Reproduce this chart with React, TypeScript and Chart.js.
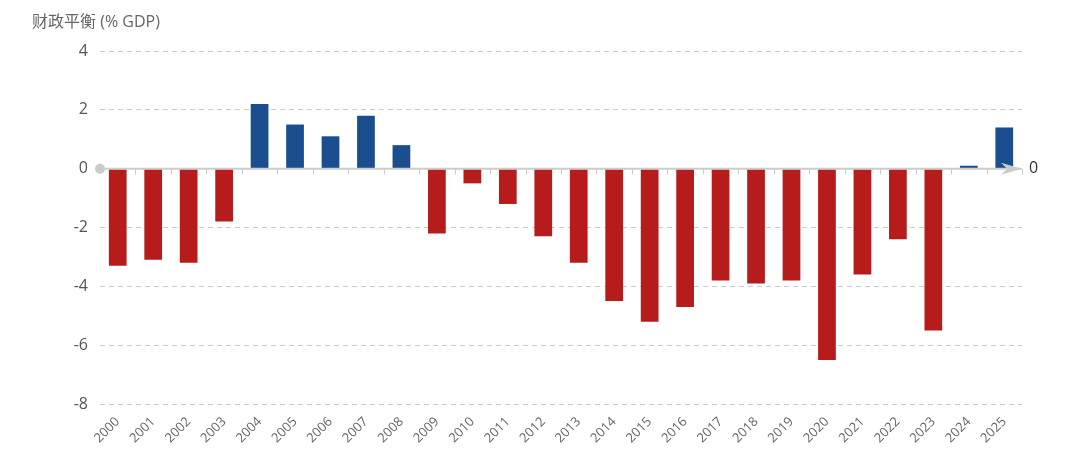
import React, { useEffect, useRef } from "react";
import { Chart, registerables } from "chart.js";

Chart.register(...registerables);

const years = [
  "2000", "2001", "2002", "2003", "2004", "2005", "2006", "2007", "2008",
  "2009", "2010", "2011", "2012", "2013", "2014", "2015", "2016", "2017",
  "2018", "2019", "2020", "2021", "2022", "2023", "2024", "2025",
];
const balance = [
  -3.3, -3.1, -3.2, -1.8, 2.2, 1.5, 1.1, 1.8, 0.8, -2.2, -0.5, -1.2, -2.3,
  -3.2, -4.5, -5.2, -4.7, -3.8, -3.9, -3.8, -6.5, -3.6, -2.4, -5.5, 0.1, 1.4,
];
const yMin = -8;
const yMax = 4;
const yStep = 2;
const title = "财政平衡 (% GDP)";
const zeroLabel = "0";

const RED = "#b71c1c";
const BLUE = "#1a4e8f";
const GRID = "#cccccc";
const FONT = "'Open Sans', 'Noto Sans CJK SC', sans-serif";

// zero axis: circle at start, arrow at end, ticks between categories, title
const zeroAxis = {
  id: "zeroAxis",
  afterDatasetsDraw(chart: any) {
    const { ctx, chartArea, scales } = chart;
    const x = scales.x;
    const y0 = scales.y.getPixelForValue(0);
    const band = x.getPixelForValue(1) - x.getPixelForValue(0);
    ctx.save();
    ctx.strokeStyle = GRID;
    ctx.lineWidth = 2;
    ctx.beginPath();
    ctx.moveTo(chartArea.left, y0);
    ctx.lineTo(chartArea.right, y0);
    ctx.stroke();

    ctx.lineWidth = 1;
    for (let i = 1; i <= years.length; i++) {
      const px = Math.round(x.getPixelForValue(i - 1) + band / 2) + 0.5;
      ctx.beginPath();
      ctx.moveTo(px, y0);
      ctx.lineTo(px, y0 + 6);
      ctx.stroke();
    }

    ctx.fillStyle = GRID;
    ctx.beginPath();
    ctx.arc(chartArea.left, y0, 5, 0, Math.PI * 2);
    ctx.fill();

    const tip = chartArea.right;
    ctx.beginPath();
    ctx.moveTo(tip, y0);
    ctx.lineTo(tip - 21, y0 + 6);
    ctx.lineTo(tip - 15, y0);
    ctx.lineTo(tip - 21, y0 - 6);
    ctx.closePath();
    ctx.fill();

    ctx.fillStyle = "#333";
    ctx.font = `16px ${FONT}`;
    ctx.textAlign = "left";
    ctx.textBaseline = "middle";
    ctx.fillText(zeroLabel, tip + 7, y0);

    ctx.fillStyle = "#666";
    ctx.font = `16px ${FONT}`;
    ctx.fillText(title, 32, 22);
    ctx.restore();
  },
};

const App: React.FC = () => {
  const chartRef = useRef<HTMLCanvasElement | null>(null);

  useEffect(() => {
    document.body.style.margin = "0";
    if (!chartRef.current) return;
    const chart = new Chart(chartRef.current, {
      type: "bar",
      data: {
        labels: years,
        datasets: [
          {
            data: balance,
            backgroundColor: balance.map((v) => (v >= 0 ? BLUE : RED)),
            barPercentage: 0.5,
            categoryPercentage: 1,
          },
        ],
      },
      options: {
        animation: false,
        responsive: true,
        maintainAspectRatio: false,
        layout: { padding: { top: 51, right: 58, left: 0, bottom: 0 } },
        plugins: {
          legend: { display: false },
          tooltip: { enabled: false },
        },
        scales: {
          x: {
            border: { display: false },
            grid: { display: false },
            ticks: {
              autoSkip: false,
              minRotation: 45,
              maxRotation: 45,
              color: "#666",
              font: { size: 13, family: FONT },
              padding: 2,
            },
            afterFit: (scale: any) => {
              scale.height = 57;
            },
          },
          y: {
            min: yMin,
            max: yMax,
            border: { display: false, dash: [5, 4] },
            grid: {
              color: (c: any) => (c.tick && c.tick.value === 0 ? "rgba(0,0,0,0)" : GRID),
              drawTicks: false,
            },
            ticks: {
              stepSize: yStep,
              color: "#555",
              padding: 12,
              font: { size: 16, family: FONT },
            },
            afterFit: (scale: any) => {
              scale.width = 100;
            },
          },
        },
      },
      plugins: [zeroAxis],
    });
    return () => {
      chart.destroy();
    };
  }, []);

  return (
    <div style={{ position: "absolute", left: 0, top: 0, width: 1080, height: 461 }}>
      <canvas ref={chartRef} />
    </div>
  );
};

export default App;
